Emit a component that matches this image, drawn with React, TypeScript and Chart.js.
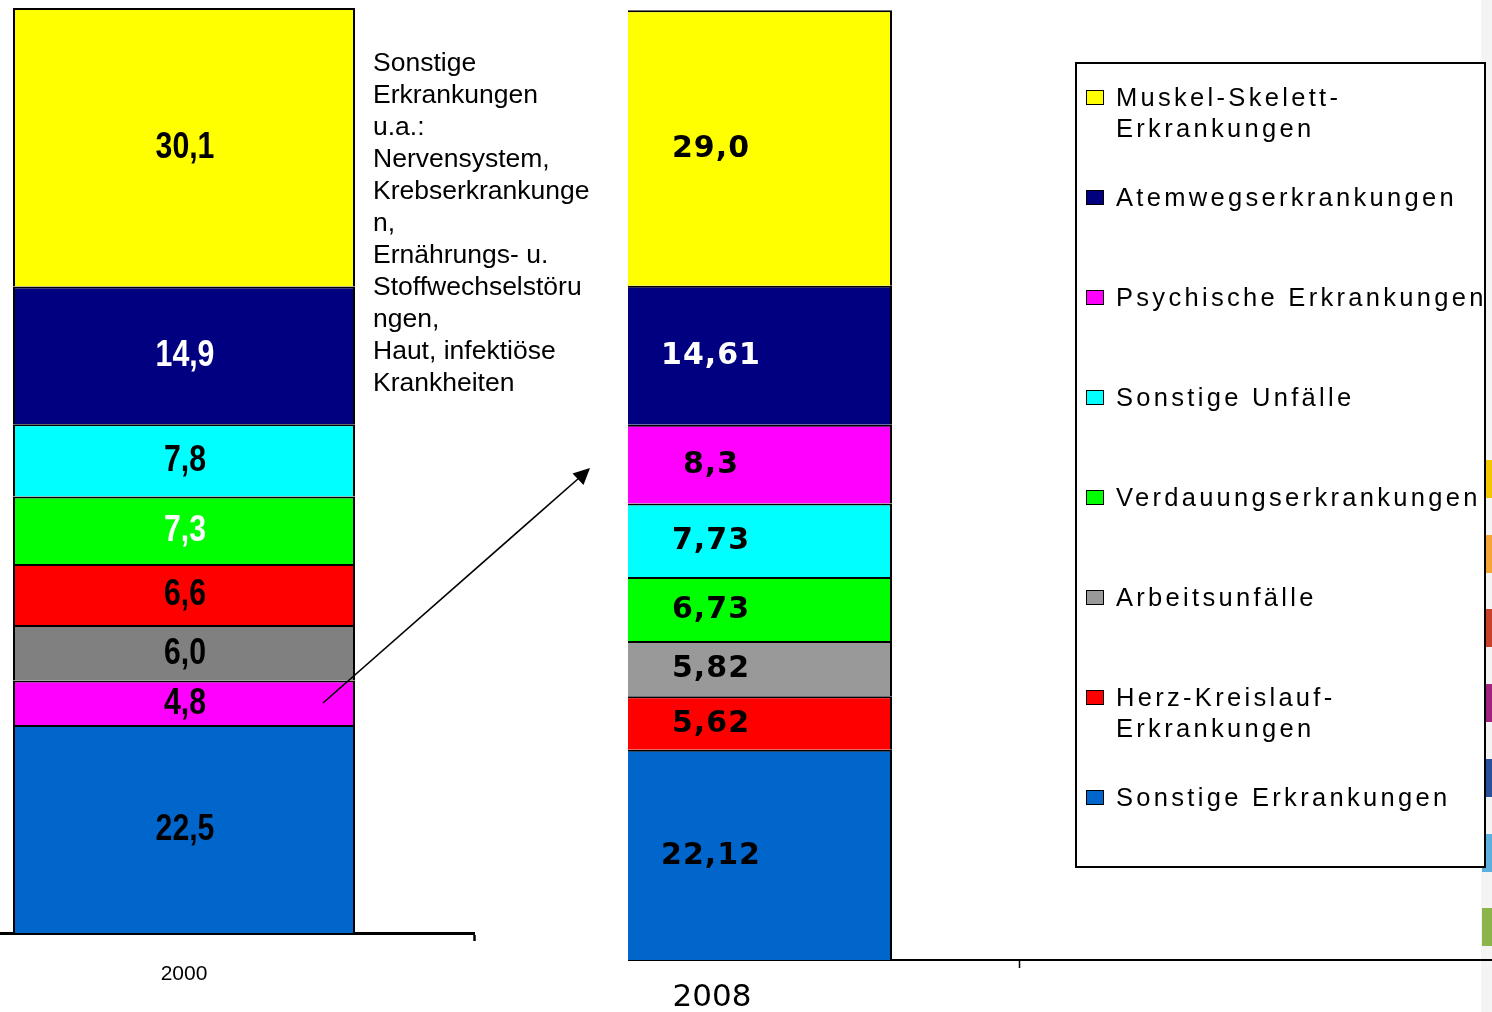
import React, { useEffect, useRef } from "react";
import { Chart, registerables } from "chart.js";

Chart.register(...registerables);

// ---------------- DATA ----------------
const seriesNames = [
  "Muskel-Skelett-Erkrankungen",
  "Atemwegserkrankungen",
  "Psychische Erkrankungen",
  "Sonstige Unfälle",
  "Verdauungserkrankungen",
  "Arbeitsunfälle",
  "Herz-Kreislauf-Erkrankungen",
  "Sonstige Erkrankungen",
];
const values2000 = [30.1, 14.9, 4.8, 7.8, 7.3, 6.0, 6.6, 22.5];
const values2008 = [29.0, 14.61, 8.3, 7.73, 6.73, 5.82, 5.62, 22.12];
// stacking order, bottom to top (indices into seriesNames)
const stackOrder2000 = [7, 2, 5, 6, 4, 3, 1, 0];
const stackOrder2008 = [7, 6, 5, 4, 3, 2, 1, 0];
const categories2000 = ["2000"];
const categories2008 = ["2008", ""];
const annotationLines = [
  "Sonstige",
  "Erkrankungen",
  "u.a.:",
  "Nervensystem,",
  "Krebserkrankunge",
  "n,",
  "Ernährungs- u.",
  "Stoffwechselstöru",
  "ngen,",
  "Haut, infektiöse",
  "Krankheiten",
];

// ---------------- STYLE ----------------
const colors2000 = ["#FFFF00", "#000080", "#FF00FF", "#00FFFF", "#00FF00", "#808080", "#FF0000", "#0066CC"];
const colors2008 = ["#FFFF00", "#000080", "#FF00FF", "#00FFFF", "#00FF00", "#999999", "#FF0000", "#0066CC"];
const legendColors = ["#FFFF00", "#000080", "#FF00FF", "#00FFFF", "#00FF00", "#999999", "#FF0000", "#0066CC"];
const whiteLabels2000 = [1, 4];
const whiteLabels2008 = [1];
const sideStripColors = ["#F2C700", "#F5A536", "#C9412B", "#A2237F", "#2A4F9B", "#5DB0DD", "#8BB54B"];

function fmt(v: number): string {
  return Number.isInteger(v) ? v.toFixed(1).replace(".", ",") : String(v).replace(".", ",");
}

type Spec = {
  categories: string[];
  values: number[];
  order: number[];
  colors: string[];
  whiteLabels: number[];
  canvasW: number;
  canvasH: number;
  padTop: number;
  padRight: number;
  axisHeight: number;
  axisWidth: number;
  tickWidth: number;
  barPct: number;
  tickFont: { family: string; size: number };
  tickPadding: number;
  labelOffset: number;
  labelFont: string;
  labelShift: number;
  labelSpacing: string;
  labelScaleX: number;
};

function StackedBar({ spec }: { spec: Spec }) {
  const ref = useRef<HTMLCanvasElement | null>(null);
  useEffect(() => {
    const canvas = ref.current!;
    const datasets = spec.order.map((si) => ({
      label: seriesNames[si],
      data: [spec.values[si]],
      backgroundColor: spec.colors[si],
      borderColor: "#000000",
      borderWidth: 2,
      barPercentage: spec.barPct,
      categoryPercentage: 1,
      seriesIndex: si,
    }));
    const labelPlugin = {
      id: "segLabels",
      afterDatasetsDraw(chart: any) {
        const ctx = chart.ctx;
        chart.data.datasets.forEach((ds: any, i: number) => {
          const meta = chart.getDatasetMeta(i);
          const el = meta.data[0];
          if (!el) return;
          const p = el.getProps(["x", "y", "base"], true);
          const si = ds.seriesIndex;
          ctx.save();
          ctx.font = spec.labelFont;
          ctx.textAlign = "center";
          ctx.textBaseline = "middle";
          try {
            (ctx as any).letterSpacing = spec.labelSpacing;
          } catch (e) {}
          ctx.fillStyle = spec.whiteLabels.includes(si) ? "#FFFFFF" : "#000000";
          ctx.translate(p.x + spec.labelShift, (p.y + p.base) / 2 + 1);
          ctx.scale(spec.labelScaleX, 1);
          ctx.fillText(fmt(spec.values[si]), 0, 0);
          ctx.restore();
        });
      },
    };
    const chart = new Chart(canvas, {
      type: "bar",
      data: { labels: spec.categories, datasets: datasets as any },
      options: {
        responsive: false,
        animation: false,
        devicePixelRatio: 1,
        layout: { padding: { top: spec.padTop, right: spec.padRight, left: 0, bottom: 0 } },
        plugins: { legend: { display: false }, tooltip: { enabled: false } },
        scales: {
          x: {
            stacked: true,
            offset: true,
            grid: {
              offset: true,
              drawOnChartArea: false,
              drawTicks: true,
              tickLength: 8,
              tickColor: "#000000",
              tickWidth: spec.tickWidth,
            },
            border: { display: true, color: "#000000", width: spec.axisWidth },
            ticks: {
              color: "#000000",
              font: spec.tickFont,
              padding: spec.tickPadding,
              labelOffset: spec.labelOffset,
              maxRotation: 0,
              autoSkip: false,
            },
            afterFit: (s: any) => {
              s.height = spec.axisHeight;
            },
          },
          y: { stacked: true, display: false, min: 0, max: 100 },
        },
      } as any,
      plugins: [labelPlugin],
    });
    return () => chart.destroy();
  }, [spec]);
  return (
    <canvas
      ref={ref}
      width={spec.canvasW}
      height={spec.canvasH}
      style={{ width: spec.canvasW, height: spec.canvasH, display: "block" }}
    />
  );
}

const spec2000: Spec = {
  categories: categories2000,
  values: values2000,
  order: stackOrder2000,
  colors: colors2000,
  whiteLabels: whiteLabels2000,
  canvasW: 590,
  canvasH: 1012,
  padTop: 8,
  padRight: 10,
  axisHeight: 79,
  axisWidth: 3,
  tickWidth: 2.5,
  barPct: 342 / 580,
  tickFont: { family: "'Liberation Sans', Arial, sans-serif", size: 21 },
  tickPadding: 21,
  labelOffset: 0,
  labelFont: "bold 36px 'Liberation Sans', Arial, sans-serif",
  labelShift: 1,
  labelSpacing: "0px",
  labelScaleX: 0.84,
};

const spec2008: Spec = {
  categories: categories2008,
  values: values2008,
  order: stackOrder2008,
  colors: colors2008,
  whiteLabels: whiteLabels2008,
  canvasW: 1050,
  canvasH: 1012,
  padTop: 9.5,
  padRight: 10,
  axisHeight: 52,
  axisWidth: 2,
  tickWidth: 1.5,
  barPct: 266 / 520,
  tickFont: { family: "'DejaVu Sans', sans-serif", size: 31 },
  tickPadding: 11,
  labelOffset: -47,
  labelFont: "bold 30px 'DejaVu Sans', sans-serif",
  labelShift: -48,
  labelSpacing: "1px",
  labelScaleX: 1,
};

export default function App() {
  const legendTops = seriesNames.map((_, i) => 97 + i * 100);
  return (
    <div
      style={{
        position: "fixed",
        left: 0,
        top: 0,
        width: 1492,
        height: 1012,
        overflow: "hidden",
        background: "#FFFFFF",
      }}
    >
      {/* side strip (behind the chart) */}
      <div style={{ position: "absolute", left: 1481, top: 0, width: 11, height: 1012, background: "#F4F4F4" }} />
      {sideStripColors.map((c, i) => (
        <div
          key={c}
          style={{
            position: "absolute",
            left: 1482,
            top: 460 + i * 74.7,
            width: 10,
            height: 38,
            background: c,
          }}
        />
      ))}

      {/* left chart (2000) */}
      <div style={{ position: "absolute", left: 0, top: 0, width: 484, height: 1012, overflow: "hidden" }}>
        <div style={{ position: "absolute", left: -106, top: 0 }}>
          <StackedBar spec={spec2000} />
        </div>
      </div>

      {/* right chart (2008) */}
      <div style={{ position: "absolute", left: 628, top: 0, width: 864, height: 1012, overflow: "hidden" }}>
        <div style={{ position: "absolute", left: 499 - 628, top: 0 }}>
          <StackedBar spec={spec2008} />
        </div>
      </div>

      {/* annotation text */}
      <div
        style={{
          position: "absolute",
          left: 373,
          top: 46,
          fontFamily: "'Liberation Sans', Arial, sans-serif",
          fontSize: 26.5,
          lineHeight: "32px",
          whiteSpace: "pre",
          color: "#000",
        }}
      >
        {annotationLines.join("\n")}
      </div>

      {/* arrow */}
      <svg width={1492} height={1012} style={{ position: "absolute", left: 0, top: 0, pointerEvents: "none" }}>
        <line x1={323} y1={703} x2={579} y2={478} stroke="#000" strokeWidth={1.6} />
        <polygon points="590,468 572.5,473.5 583.5,485" fill="#000" />
      </svg>

      {/* legend */}
      <div
        style={{
          position: "absolute",
          left: 1075,
          top: 62,
          width: 411,
          height: 806,
          border: "2px solid #000",
          boxSizing: "border-box",
          background: "#FFFFFF",
        }}
      />
      {seriesNames.map((name, i) => (
        <React.Fragment key={name}>
          <div
            style={{
              position: "absolute",
              left: 1086,
              top: legendTops[i] - 7,
              width: 18,
              height: 15,
              boxSizing: "border-box",
              border: "1.5px solid #000",
              background: legendColors[i],
            }}
          />
          <div
            style={{
              position: "absolute",
              left: 1116,
              top: legendTops[i] - 15.5,
              fontFamily: "'Liberation Sans', Arial, sans-serif",
              fontSize: 25.5,
              letterSpacing: 3.3,
              lineHeight: "31px",
              whiteSpace: "pre",
              color: "#000",
            }}
          >
            {name.replace("-Erkrankungen", "-\nErkrankungen")}
          </div>
        </React.Fragment>
      ))}
    </div>
  );
}
